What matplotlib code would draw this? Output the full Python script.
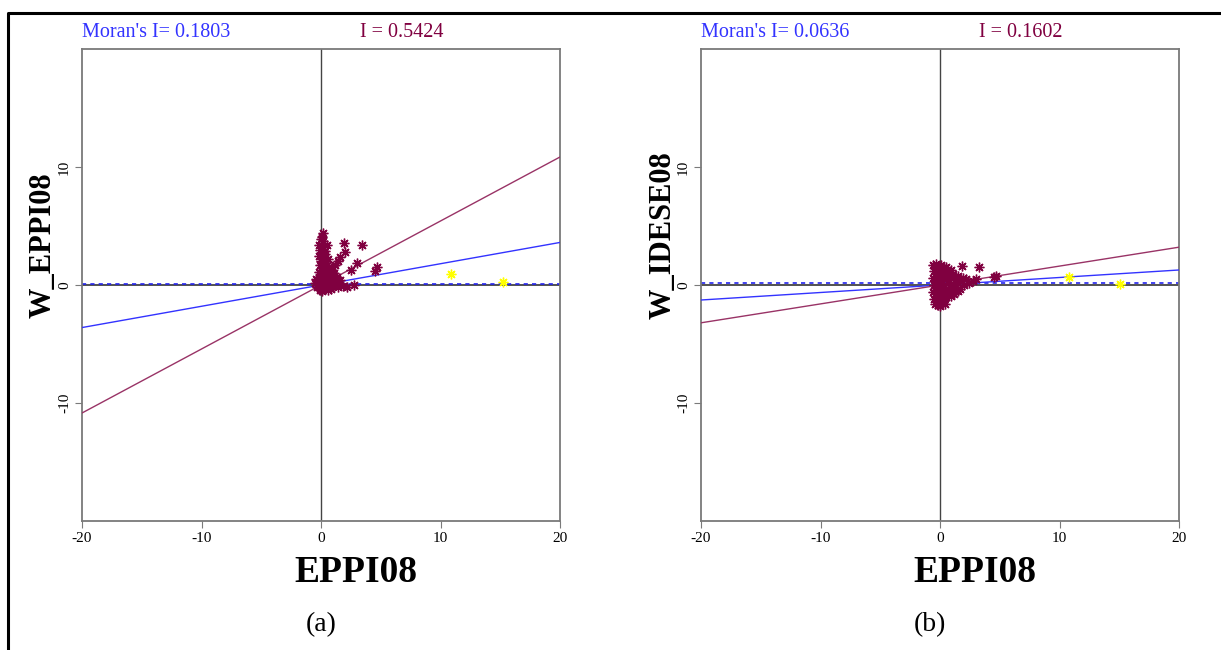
import numpy as np
import matplotlib.pyplot as plt
from matplotlib.lines import Line2D

plt.rcParams['font.family'] = ['Liberation Serif', 'DejaVu Serif']
plt.rcParams['axes.unicode_minus'] = False

# regression slopes (Moran's I) per panel
moran_blue = [0.1803, 0.0636]
moran_red = [0.5424, 0.1602]
ref_line_y = [0.05, 0.2]

ylabels = ["W_EPPI08", "W_IDESE08"]
xlabel = "EPPI08"
panel_tags = ["(a)", "(b)"]

# panel (a) scatter
a_x = [0.15, 0.1, 0.0, 0.2, -0.15, 0.5, 0.1, -0.1, 0.3, 0.35, -0.2, 0.1, 0.6, 0.0, 0.4,
       -0.1, 0.2, 0.7, 0.0, 0.3, 0.9, -0.2, 0.5, 0.1, 1.1, 0.8,
       1.9, 3.45, 2.05, 1.6, 1.4, 1.2, 3.0, 2.5, 4.7, 4.5, 2.2, 2.75, 1.3, 1.6,
       -0.5, -0.4, -0.3, -0.2, -0.1, 0.0, 0.0, 0.1, 0.2, 0.2, 0.3, 0.4, 0.5, 0.6,
       0.7, 0.8, 0.9, 1.0, 1.1, 1.2, 1.4, 1.5, 1.8, -0.3, 0.05, 0.6, 0.35]
a_y = [4.4, 4.1, 3.9, 3.7, 3.4, 3.4, 3.2, 3.0, 2.9, 2.6, 2.5, 2.3, 2.2, 2.0, 1.9,
       1.7, 1.6, 1.5, 1.3, 1.2, 1.3, 1.1, 1.0, 0.9, 1.0, 0.8,
       3.6, 3.4, 2.8, 2.35, 2.0, 1.7, 1.85, 1.3, 1.55, 1.2, -0.15, 0.0, 0.7, 0.4,
       0.2, 0.5, -0.2, 0.7, -0.4, 0.0, 0.4, -0.2, 0.6, 0.1, -0.3, 0.3, -0.1, 0.5,
       0.0, -0.3, 0.3, -0.1, 0.5, 0.0, -0.2, 0.2, -0.1, 0.0, -0.5, -0.4, 0.8]
a_hi_x = [10.9, 15.2]
a_hi_y = [0.95, 0.28]

# panel (b) scatter
b_x = [-0.55, -0.5, -0.55, -0.5, -0.55, -0.5, -0.4, -0.3, -0.3, -0.3, -0.3, -0.3, -0.2,
       -0.1, -0.1, -0.1, -0.1, -0.1, 0.1, 0.1, 0.1, 0.1, 0.1, 0.3, 0.3, 0.3, 0.3, 0.3,
       0.5, 0.5, 0.5, 0.5, 0.7, 0.7, 0.7, 0.9, 0.9, 0.9, 0.9, 1.1, 1.1, 1.1, 1.3, 1.3,
       1.5, 1.5, 1.7, 1.7, 1.9, 2.0, 0.0, 0.2, 0.6, -0.2, 0.4, 0.0,
       1.85, 3.3, 4.5, 4.7, 2.8, 2.2, 1.5, 2.4, 3.0, 1.2]
b_y = [1.7, 1.2, 0.6, 0.0, -0.6, -1.2, -1.6, 1.8, 1.0, 0.3, -0.4, -1.0, -1.7,
       1.5, 0.7, -0.2, -0.8, -1.4, 1.7, 1.1, 0.4, -0.5, -1.1, 1.4, 0.8, 0.0, -0.7, -1.3,
       1.5, 0.5, -0.3, -1.0, 1.1, 0.2, -0.6, 1.3, 0.6, -0.2, -0.9, 0.9, 0.1, -0.5, 0.6, -0.2,
       0.8, 0.2, 0.4, -0.3, 0.6, 0.0, 0.0, 0.2, 0.9, 0.5, -1.6, -1.8,
       1.6, 1.5, 0.7, 0.8, 0.3, 0.55, -0.55, 0.2, 0.5, -0.8]
b_hi_x = [10.8, 15.1]
b_hi_y = [0.7, 0.12]

points = [(a_x, a_y, a_hi_x, a_hi_y), (b_x, b_y, b_hi_x, b_hi_y)]

BLUE = "#3333ff"
MAROON = "#800040"
LINE_RED = "#993366"
GRAY = "#7a7a7a"
ast = (8, 2, 0)

fig = plt.figure(figsize=(12.21, 6.5), dpi=100)
lefts = [82 / 1221, 701 / 1221]
for i in range(2):
    ax = fig.add_axes([lefts[i], 1 - 521 / 650, 478 / 1221, 472 / 650])
    ax.set_xlim(-20, 20)
    ax.set_ylim(-20, 20)
    for s in ax.spines.values():
        s.set_color(GRAY)
        s.set_linewidth(1.3)
    ax.axvline(0, color="#444444", lw=1.0, zorder=1)
    ax.axhline(0, color="#333333", lw=1.2, zorder=1)
    ax.axhline(ref_line_y[i], color="#2222ee", lw=1.2, ls=(0, (2.5, 2.5)), zorder=2)
    xx = np.array([-20, 20])
    ax.plot(xx, moran_blue[i] * xx, color=BLUE, lw=1.0, zorder=3)
    ax.plot(xx, moran_red[i] * xx, color=LINE_RED, lw=1.0, zorder=3)
    px, py, hx, hy = points[i]
    ax.plot(px, py, ls="none", marker=ast, ms=7, mew=1.0, mec=MAROON, zorder=4)
    ax.plot(hx, hy, ls="none", marker=ast, ms=7, mew=1.0, mec="#ffff00", zorder=4)

    ax.set_xticks([-20, -10, 0, 10, 20])
    ax.set_yticks([-10, 0, 10])
    ax.tick_params(direction="out", length=5, color=GRAY, labelsize=11, pad=3)
    for lab in ax.get_yticklabels():
        lab.set_rotation(90)
        lab.set_va("center")

    ax.text(0, 1.015, "Moran's I= %.4f" % moran_blue[i], transform=ax.transAxes,
            color=BLUE, fontsize=14.5, va="bottom", ha="left")
    ax.text(0.582, 1.015, "I = %.4f" % moran_red[i], transform=ax.transAxes,
            color=MAROON, fontsize=14.5, va="bottom", ha="left")
    ax.text(0.573, -0.11, xlabel, transform=ax.transAxes, fontsize=27,
            fontweight="bold", ha="center", va="center")

fig.text(43 / 1221, 1 - 245 / 650, ylabels[0], rotation=90, fontsize=22,
         fontweight="bold", ha="center", va="center")
fig.text(663 / 1221, 1 - 235 / 650, ylabels[1], rotation=90, fontsize=22,
         fontweight="bold", ha="center", va="center")
fig.text(321 / 1221, 1 - 625 / 650, panel_tags[0], fontsize=20, ha="center", va="center")
fig.text(930 / 1221, 1 - 625 / 650, panel_tags[1], fontsize=20, ha="center", va="center")

# outer frame (top and left edges)
fig.add_artist(Line2D([8 / 1221, 8 / 1221, 1.0], [0.0, 1 - 13 / 650, 1 - 13 / 650],
                      transform=fig.transFigure, color="black", lw=2.2))

fig.savefig("out.png", dpi=100)
